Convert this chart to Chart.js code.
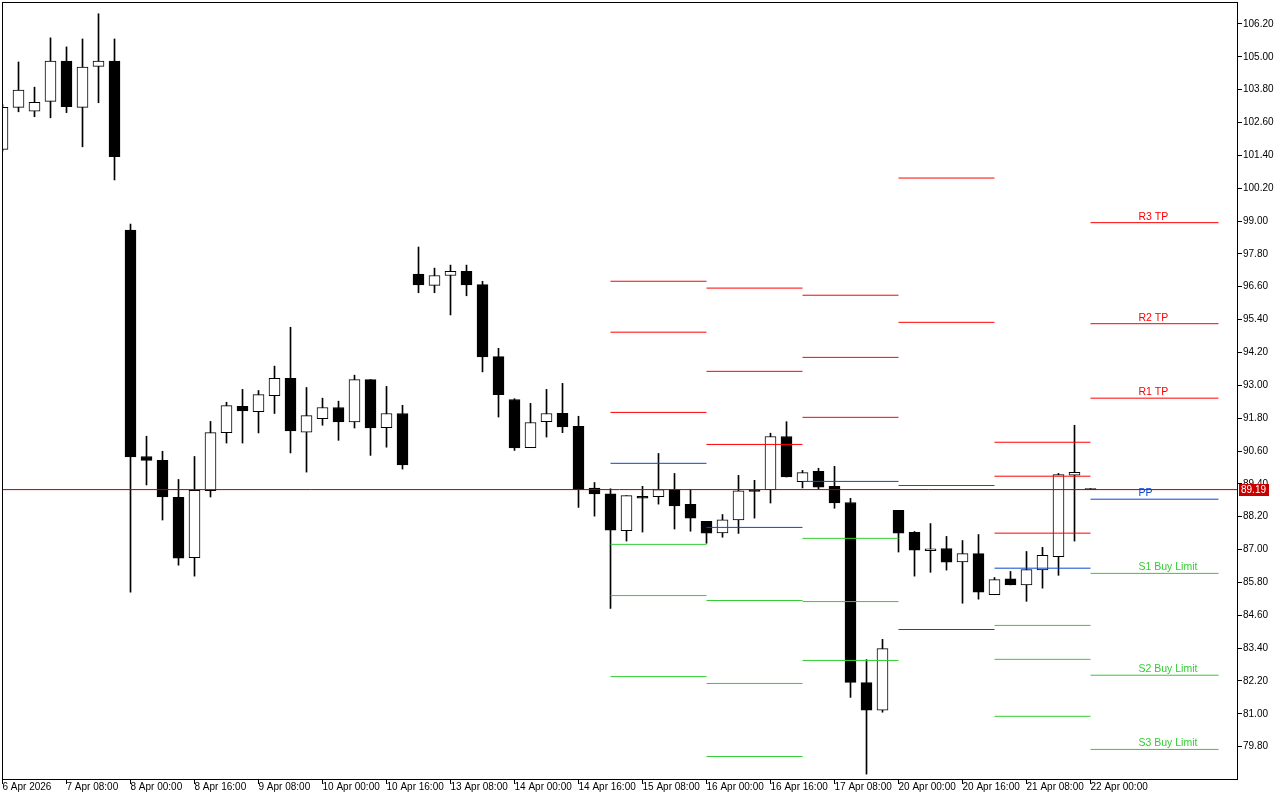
<!DOCTYPE html>
<html>
<head>
<meta charset="utf-8">
<script src="https://cdn.jsdelivr.net/npm/chart.js@4.4.1/dist/chart.umd.min.js"></script>
<style>
  html, body { margin: 0; padding: 0; background: #fff; }
  canvas { display: block; }
</style>
</head>
<body>
<canvas id="chart" width="1280" height="800"></canvas>
<script>
// H4 bars, 6 Apr 16:00 .. 22 Apr 00:00
const opens  = [101.62,103.15,103.01,103.37,104.84,103.15,104.65,104.84,98.67,90.40,
                90.26,88.91,86.70,89.15,91.27,92.23,92.04,92.62,93.25,91.29,
                91.78,92.19,91.66,93.21,91.45,91.97,97.06,96.65,97.01,97.16,
                96.68,94.05,92.48,90.72,91.67,91.98,91.50,89.25,89.04,87.69,
                88.94,88.93,89.19,88.65,88.03,87.61,88.08,89.19,89.19,91.13,
                89.48,89.86,89.31,88.72,82.14,81.13,88.43,87.63,86.96,87.04,
                86.55,86.85,85.35,85.93,85.71,86.26,86.74,89.72,89.19];
const highs  = [103.25,104.81,103.89,105.69,105.36,105.65,106.57,105.65,98.89,91.14,
                90.59,89.56,90.40,91.68,92.38,92.85,92.81,93.70,95.12,92.92,
                92.53,92.42,93.37,93.21,92.96,92.27,98.05,97.28,97.39,97.39,
                96.80,94.35,92.51,92.34,92.85,93.07,91.87,89.45,89.22,88.97,
                89.31,90.51,89.78,89.19,88.03,88.28,89.71,89.53,91.25,91.67,
                89.89,89.97,90.04,88.87,82.98,83.72,88.43,87.66,87.95,87.48,
                87.33,87.55,85.98,86.20,86.93,87.08,89.78,91.54,89.19];
const lows   = [101.55,102.99,102.81,102.77,102.96,101.71,103.32,100.50,85.44,89.36,
                88.08,86.43,86.03,88.92,90.89,90.89,91.26,91.97,90.53,89.83,
                91.54,90.99,91.44,90.44,90.74,89.94,96.38,96.38,95.57,96.27,
                93.49,91.84,90.62,90.72,91.11,91.27,88.54,88.22,84.85,87.31,
                87.64,88.66,87.75,87.67,87.23,87.45,87.59,88.15,88.70,89.65,
                89.25,89.20,88.51,81.60,78.80,81.06,86.91,86.03,86.17,86.25,
                85.04,85.19,85.35,85.71,85.11,85.59,86.06,87.31,89.19];
const closes = [103.15,103.78,103.34,104.84,103.18,104.62,104.84,101.35,90.38,90.26,
                88.92,86.69,89.16,91.27,92.26,92.06,92.66,93.25,91.33,91.89,
                92.19,91.66,93.21,91.44,91.97,90.09,96.67,97.01,97.16,96.67,
                94.04,92.66,90.71,91.64,91.97,91.48,89.19,89.03,87.71,88.97,
                88.88,89.19,88.59,88.15,87.60,88.09,89.15,89.12,91.13,89.65,
                89.81,89.28,88.70,82.15,81.13,83.38,87.60,86.98,87.03,86.54,
                86.85,85.44,85.90,85.71,86.27,86.79,89.74,89.82,89.19];

// one label every 4 bars
const timeLabels = ['6 Apr 2026','7 Apr 08:00','8 Apr 00:00','8 Apr 16:00','9 Apr 08:00',
                    '10 Apr 00:00','10 Apr 16:00','13 Apr 08:00','14 Apr 00:00','14 Apr 16:00',
                    '15 Apr 08:00','16 Apr 00:00','16 Apr 16:00','17 Apr 08:00','20 Apr 00:00',
                    '20 Apr 16:00','21 Apr 08:00','22 Apr 00:00'];
const priceTicks = [79.8,81.0,82.2,83.4,84.6,85.8,87.0,88.2,89.4,90.6,91.8,93.0,
                    94.2,95.4,96.6,97.8,99.0,100.2,101.4,102.6,103.8,105.0,106.2];

// daily pivots: 15, 16, 17, 20, 21, 22 Apr
const dayStart = [38, 44, 50, 56, 62, 68];
const dayEnd   = [44, 50, 56, 62, 68, 76];
const r3 = [96.80, 96.55, 96.29, 100.57, 90.92, 98.94];
const r2 = [94.94, 93.51, 94.02, 95.30, 89.68, 95.25];
const r1 = [92.01, 90.84, 91.83, 89.34, 87.60, 92.53];
const pp = [90.15, 87.81, 89.49, 84.08, 86.32, 88.84];
const s1 = [87.19, 85.14, 87.41, null, 84.23, 86.13];
const s2 = [85.32, 82.11, 85.10, null, 82.99, 82.41];
const s3 = [82.36, 79.44, 82.95, null, 80.91, 79.70];
const levelNames = ['R3 TP', 'R2 TP', 'R1 TP', 'PP', 'S1 Buy Limit', 'S2 Buy Limit', 'S3 Buy Limit'];
const currentPrice = 89.19;

const RED = '#ff0000', BLUE = '#0a48d0', GREEN = '#32cd32';
const FONT = '"Liberation Sans", Arial, sans-serif';
const levels = [
  { values: r3, color: RED }, { values: r2, color: RED }, { values: r1, color: RED },
  { values: pp, color: BLUE },
  { values: s1, color: GREEN }, { values: s2, color: GREEN }, { values: s3, color: GREEN }
];
const labelAt = 71;

// chart area is 2..1237 px, 16 px per bar, bar 0 centred on pixel 2
const xMin = -0.5 / 16;
const xMax = xMin + 1235 / 16;

function segments(vals) {
  const pts = [];
  vals.forEach((v, d) => {
    pts.push({ x: dayStart[d], y: v }, { x: dayEnd[d], y: v }, { x: dayEnd[d], y: null });
  });
  return pts;
}

const pivotSets = levels.map(lv => ({
  type: 'line',
  data: segments(lv.values),
  borderColor: lv.color,
  borderWidth: 1,
  pointRadius: 0,
  spanGaps: false,
  order: 0
}));

const priceLine = {
  type: 'line',
  data: [{ x: xMin, y: currentPrice }, { x: xMax, y: currentPrice }],
  borderColor: '#b00000',
  borderWidth: 1,
  pointRadius: 0,
  order: 0
};

const bodies = {
  type: 'bar',
  data: opens.map((o, i) => ({ x: i, y: [o, closes[i]] })),
  backgroundColor: opens.map((o, i) => closes[i] > o ? '#ffffff' : '#000000'),
  borderColor: '#000000',
  borderWidth: 1,
  borderSkipped: false,
  barThickness: 11,
  minBarLength: 1,
  grouped: false,
  clip: 0,
  order: 1
};

const wicks = {
  type: 'bar',
  data: highs.map((h, i) => ({ x: i, y: [lows[i], h] })),
  backgroundColor: '#000000',
  borderWidth: 0,
  barThickness: 1,
  minBarLength: 1,
  grouped: false,
  clip: 0,
  order: 2
};

const overlay = {
  id: 'overlay',
  afterDatasetsDraw(chart) {
    const { ctx, scales: { x, y } } = chart;
    ctx.save();
    ctx.font = '10.5px ' + FONT;
    ctx.textBaseline = 'alphabetic';
    ctx.textAlign = 'left';
    levels.forEach((lv, k) => {
      const v = lv.values[lv.values.length - 1];
      ctx.fillStyle = lv.color;
      ctx.fillText(levelNames[k], x.getPixelForValue(labelAt), y.getPixelForValue(v) - 3);
    });
    ctx.restore();
  },
  afterDraw(chart) {
    const { ctx, chartArea: a, scales: { y } } = chart;
    ctx.save();
    ctx.strokeStyle = '#000';
    ctx.lineWidth = 1;
    ctx.strokeRect(a.left + 0.5, a.top + 0.5, a.right - a.left, a.bottom - a.top);
    const yp = Math.round(y.getPixelForValue(currentPrice));
    ctx.fillStyle = '#c80000';
    ctx.fillRect(a.right + 2, yp - 6, 30, 12);
    ctx.fillStyle = '#fff';
    ctx.font = '10px ' + FONT;
    ctx.textBaseline = 'middle';
    ctx.fillText(currentPrice.toFixed(2), a.right + 4, yp);
    ctx.restore();
  }
};

Chart.defaults.color = '#000';

new Chart(document.getElementById('chart'), {
  type: 'bar',
  data: { datasets: [...pivotSets, priceLine, bodies, wicks] },
  options: {
    responsive: false,
    animation: false,
    layout: { padding: { left: 2, top: 2, right: 0, bottom: 0 } },
    plugins: { legend: { display: false }, tooltip: { enabled: false } },
    scales: {
      x: {
        type: 'linear',
        min: xMin,
        max: xMax,
        bounds: 'data',
        offset: false,
        grid: { offset: false, drawOnChartArea: false, tickLength: 5, color: '#000' },
        border: { display: false },
        ticks: {
          autoSkip: false, maxRotation: 0, align: 'start', padding: -3,
          font: { family: FONT, size: 10 }, color: '#000',
          callback: (v, i) => timeLabels[i]
        },
        afterBuildTicks: s => { s.ticks = timeLabels.map((_, k) => ({ value: k * 4 })); },
        afterFit: s => { s.height = 21; s.paddingLeft = 0; s.paddingRight = 0; }
      },
      y: {
        type: 'linear',
        position: 'right',
        min: 78.62,
        max: 107.0,
        bounds: 'data',
        grid: { drawOnChartArea: false, tickLength: 5, color: '#000' },
        border: { display: false },
        ticks: {
          autoSkip: false, padding: 1,
          font: { family: FONT, size: 10 }, color: '#000',
          callback: v => v.toFixed(2)
        },
        afterBuildTicks: s => { s.ticks = priceTicks.map(v => ({ value: v })); },
        afterFit: s => { s.width = 43; s.paddingTop = 0; s.paddingBottom = 0; }
      }
    }
  },
  plugins: [overlay]
});
</script>
</body>
</html>
